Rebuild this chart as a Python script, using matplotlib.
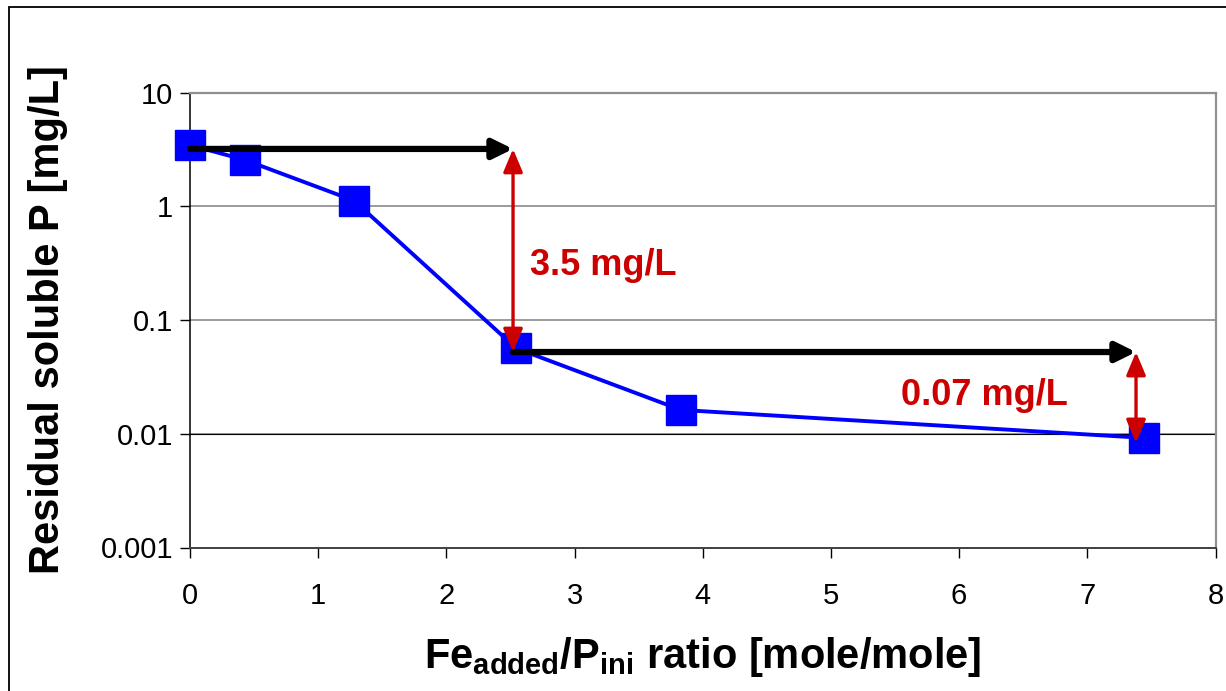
import numpy as np
import matplotlib
matplotlib.use("Agg")
import matplotlib.pyplot as plt
from matplotlib.patches import Rectangle

plt.rcParams['font.family'] = ['Liberation Sans', 'DejaVu Sans']
plt.rcParams['mathtext.fontset'] = 'custom'
plt.rcParams['mathtext.rm'] = 'Liberation Sans'
plt.rcParams['mathtext.bf'] = 'Liberation Sans:bold'
plt.rcParams['mathtext.it'] = 'Liberation Sans:italic'

# donnees
fe_ratio = [0, 0.43, 1.28, 2.545, 3.83, 7.44]
p_resid = [3.45, 2.55, 1.12, 0.0564, 0.0162, 0.0092]

# fleches : niveau de depart, point intermediaire, niveau final
arrow_x = [0, 2.52, 7.38]
arrow_y = [3.19, 0.0523, 0.0083]
drop_labels = ['3.5 mg/L', '0.07 mg/L']

xticks = [0, 1, 2, 3, 4, 5, 6, 7, 8]
yticks = [0.001, 0.01, 0.1, 1, 10]
ytick_labels = ['0.001', '0.01', '0.1', '1', '10']

fig = plt.figure(figsize=(12.26, 6.91), dpi=100)
ax = fig.add_axes([190/1226, 1-547.5/691, (1215.5-190)/1226, (547.5-92.5)/691])

ax.set_yscale('log')
ax.set_xlim(0, 8)
ax.set_ylim(0.001, 10)

# grille
for v in yticks[1:-1]:
    ax.axhline(v, color='#808080', lw=1.1, zorder=1)
ax.axhline(0.01, color='black', lw=0.8, zorder=1.1)

# courbe
ax.plot(fe_ratio, p_resid, color='#0000FF', lw=2.8, marker='s', ms=22,
        mec='#0000FF', mfc='#0000FF', zorder=3, clip_on=False)

# fleches noires horizontales
black = dict(arrowstyle='-|>,head_length=0.85,head_width=0.42', color='black',
             lw=4.5, mutation_scale=14, shrinkA=0, shrinkB=0)
ax.annotate('', xy=(arrow_x[1], arrow_y[0]), xytext=(arrow_x[0], arrow_y[0]),
            arrowprops=black, zorder=4)
ax.annotate('', xy=(arrow_x[2], arrow_y[1]), xytext=(arrow_x[1], arrow_y[1]),
            arrowprops=black, zorder=4)

# fleches rouges verticales
red = dict(arrowstyle='<|-|>,head_length=1.0,head_width=0.42', color='#CC0000',
           lw=2.4, mutation_scale=14, shrinkA=0, shrinkB=0)
ax.annotate('', xy=(arrow_x[1], arrow_y[1]), xytext=(arrow_x[1], arrow_y[0]),
            arrowprops=red, zorder=5)
ax.annotate('', xy=(arrow_x[2], arrow_y[2]), xytext=(arrow_x[2], arrow_y[1]),
            arrowprops=red, zorder=5)

ax.text(2.652, 0.249, drop_labels[0], color='#CC0000', fontsize=26,
        fontweight='bold', va='baseline', ha='left')
ax.text(5.546, 0.0179, drop_labels[1], color='#CC0000', fontsize=26,
        fontweight='bold', va='baseline', ha='left')

# axes
ax.set_xticks(xticks)
ax.set_xticklabels([str(t) for t in xticks])
ax.set_yticks(yticks)
ax.set_yticklabels(ytick_labels)
ax.minorticks_off()
ax.tick_params(axis='x', direction='out', length=7, width=1, pad=18,
               labelsize=21, color='black')
ax.tick_params(axis='y', direction='out', length=7, width=1, pad=5,
               labelsize=21, color='black')

ax.spines['left'].set_color('black')
ax.spines['left'].set_linewidth(1.1)
ax.spines['bottom'].set_color('#404040')
ax.spines['bottom'].set_linewidth(1.4)
for s in ['top', 'right']:
    ax.spines[s].set_color('#909090')
    ax.spines[s].set_linewidth(1.6)

fig.text(48/1226, 1-320/691, 'Residual soluble P [mg/L]', rotation=90,
         ha='center', va='center', fontsize=30, fontweight='bold')
fig.text(702.5/1226, 1-668/691,
         r'$\mathbf{Fe_{added}/P_{ini}}$ ratio [mole/mole]',
         ha='center', va='baseline', fontsize=30, fontweight='bold')

# cadre exterieur
fig.add_artist(Rectangle((9/1226, -0.1), 1.2, 1-7/691+0.1, fill=False,
                         lw=1.3, ec='black', transform=fig.transFigure))

fig.savefig('out.png', dpi=100)
